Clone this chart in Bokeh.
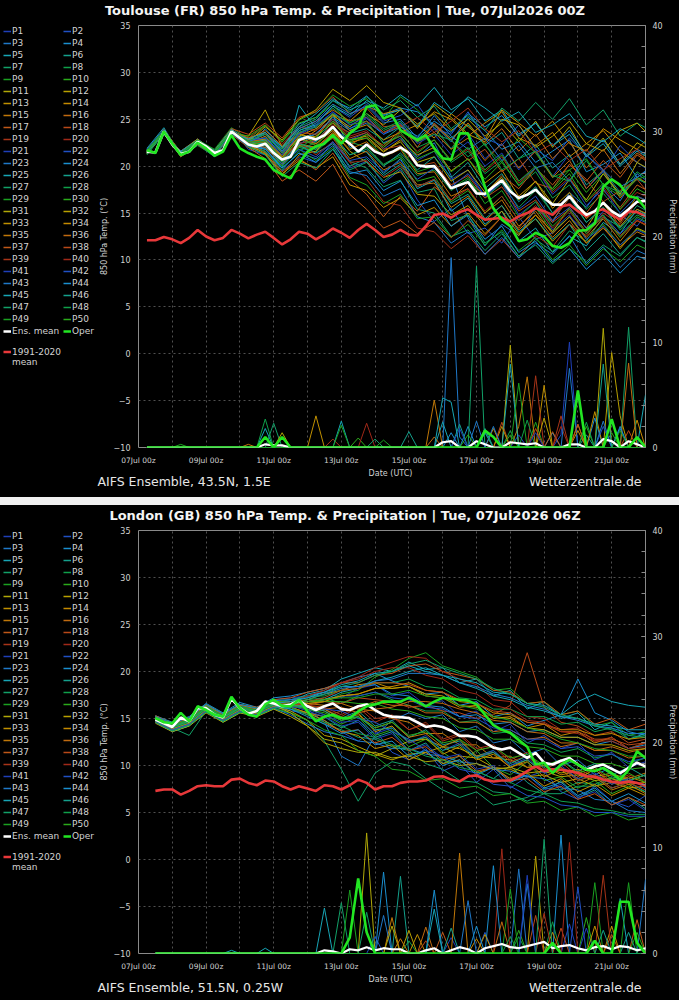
from bokeh.embed import file_html
from bokeh.layouts import column, row
from bokeh.models import Div, FixedTicker, Label, Legend, LegendItem, LinearAxis, Range1d
from bokeh.plotting import figure
from bokeh.resources import INLINE

FONT = "DejaVu Sans"
TEXT = "#d2d2d2"

MEMBER_COLORS = [
    "#1f3fb8", "#2050c4", "#1f78c8", "#1a8fcf", "#17a5b5",
    "#14a08c", "#12a068", "#0f9f4a", "#1aa020", "#2aaa1a",
    "#b0a808", "#b8a000", "#c09000", "#c48a00", "#c07808",
    "#c06a10", "#c05818", "#b84818", "#a83418", "#a02818",
]
MEAN_COLOR = "#ffffff"
OPER_COLOR = "#22e622"
CLIM_COLOR = "#e8383a"

DATE_TICKS = [0, 2, 4, 6, 8, 10, 12, 14]
DATE_LABELS = ["07Jul 00z", "09Jul 00z", "11Jul 00z", "13Jul 00z",
               "15Jul 00z", "17Jul 00z", "19Jul 00z", "21Jul 00z"]

# ---------------- Toulouse (run 00Z), 6-hourly from 07Jul 06z ----------------
TLS_MEAN = [21.55, 21.45, 23.7, 22.3, 21.3, 21.55, 22.6, 22.1, 21.4, 21.7,
            23.7, 23.0, 22.3, 22.1, 22.4, 21.4, 20.7, 21.0, 22.8, 23.1,
            22.85, 23.3, 24.2, 23.1, 22.4, 21.55, 22.3, 21.55, 21.2, 21.5,
            22.0, 21.4, 20.1, 19.95, 20.0, 18.9, 17.65, 18.0, 18.3, 17.1,
            17.05, 17.8, 18.5, 17.3, 16.6, 16.95, 17.5, 16.6, 15.9, 15.9,
            16.8, 15.7, 14.8, 15.2, 16.1, 15.2, 14.65, 15.4, 16.2, 16.3]
TLS_OPER = [21.7, 21.4, 23.7, 22.4, 21.2, 21.55, 22.5, 21.9, 21.1, 21.55,
            23.3, 21.9, 21.4, 21.0, 20.7, 19.6, 19.1, 18.7, 20.3, 21.55,
            22.1, 22.4, 23.3, 22.4, 23.5, 24.2, 26.3, 26.5, 25.1, 25.45,
            23.85, 23.3, 22.8, 23.3, 21.9, 20.85, 20.7, 23.5, 23.5, 20.7,
            17.8, 15.5, 14.3, 13.6, 12.0, 12.2, 12.9, 12.5, 11.5, 11.3,
            11.8, 13.1, 13.2, 13.9, 17.8, 18.6, 18.0, 16.8, 16.6, 15.5]
TLS_CLIM = [12.1, 12.1, 12.45, 12.2, 11.8, 12.35, 13.2, 12.5, 12.1, 12.35,
            13.2, 12.8, 12.3, 12.7, 13.0, 12.35, 11.65, 12.2, 13.0, 12.8,
            12.2, 12.7, 13.35, 12.9, 12.35, 13.2, 13.85, 13.2, 12.45, 12.7,
            13.2, 12.7, 12.6, 13.6, 14.8, 14.95, 14.5, 15.1, 15.4, 14.8,
            14.3, 14.4, 14.5, 14.1, 14.65, 15.0, 15.5, 15.2, 14.8, 15.7,
            15.9, 15.2, 14.65, 15.2, 15.4, 14.8, 14.3, 15.2, 15.1, 14.65]

# members, 12-hourly (06z / 18z) from 07Jul 06z
TLS_MEMBERS = [
    [21.8, 23.9, 21.0, 22.4, 21.2, 23.5, 22.8, 23.4, 21.5, 23.6, 24.3, 25.8, 24.0, 25.1, 23.4, 24.8, 22.6, 24.0, 21.9, 23.5, 20.8, 22.4, 19.6, 21.8, 18.9, 21.3, 17.6, 19.4, 16.9, 18.8, 17.5],
    [21.4, 23.5, 21.5, 22.9, 21.6, 24.0, 21.8, 21.2, 19.5, 21.0, 20.4, 22.6, 19.8, 20.5, 18.2, 19.6, 16.4, 14.1, 15.5, 12.8, 13.4, 11.8, 14.6, 12.2, 12.9, 14.6, 13.0, 15.2, 14.8, 13.6, 16.0],
    [21.7, 23.6, 21.2, 22.7, 21.5, 23.8, 22.5, 22.0, 20.2, 22.3, 23.5, 25.0, 23.8, 24.6, 22.5, 23.2, 21.0, 22.5, 19.0, 14.5, 11.5, 13.8, 12.6, 15.5, 14.0, 17.2, 15.6, 18.0, 16.3, 19.2, 17.9],
    [21.5, 23.8, 21.4, 22.5, 21.3, 23.6, 22.0, 24.0, 22.0, 24.5, 25.2, 27.0, 26.2, 27.5, 25.5, 26.2, 25.8, 24.4, 22.6, 25.2, 23.8, 21.8, 22.6, 20.4, 21.6, 22.8, 19.4, 20.2, 21.4, 18.8, 20.0],
    [21.9, 24.1, 21.1, 22.8, 21.7, 23.9, 22.6, 21.5, 19.8, 26.5, 24.0, 25.5, 22.0, 21.5, 19.2, 20.8, 17.6, 18.5, 15.2, 16.6, 13.8, 15.2, 12.0, 13.4, 10.8, 12.5, 11.5, 14.0, 12.8, 15.4, 14.4],
    [21.3, 23.4, 21.6, 22.3, 21.0, 23.4, 23.0, 22.8, 21.0, 23.2, 22.6, 24.8, 23.5, 24.0, 22.8, 24.2, 22.9, 24.5, 23.0, 24.4, 22.2, 23.6, 20.8, 22.3, 19.8, 21.2, 18.0, 19.5, 17.2, 18.6, 17.9],
    [21.6, 23.8, 21.3, 22.6, 21.4, 23.7, 22.2, 21.8, 20.0, 22.0, 21.5, 23.2, 20.5, 19.8, 17.8, 18.5, 15.4, 15.0, 12.5, 13.2, 11.0, 12.8, 10.4, 12.2, 10.9, 13.1, 12.0, 14.6, 13.5, 15.8, 14.8],
    [21.2, 23.5, 21.0, 22.2, 21.1, 23.3, 22.4, 23.0, 21.8, 23.8, 24.6, 26.2, 24.6, 25.4, 23.8, 24.6, 22.0, 22.8, 20.4, 21.6, 19.2, 20.6, 17.9, 19.4, 16.6, 18.0, 15.4, 17.1, 15.0, 16.8, 16.0],
    [21.7, 23.6, 21.4, 22.8, 21.8, 24.1, 22.9, 24.3, 22.6, 24.9, 25.8, 27.6, 26.4, 27.2, 25.0, 27.4, 26.0, 24.2, 21.8, 24.6, 22.2, 20.4, 23.0, 21.4, 18.8, 19.6, 20.8, 18.0, 16.8, 18.6, 19.2],
    [21.5, 23.9, 21.2, 22.5, 21.3, 23.6, 22.1, 22.5, 20.2, 22.1, 21.8, 23.0, 21.2, 22.0, 20.1, 21.0, 18.4, 18.9, 16.2, 17.4, 15.0, 16.8, 14.2, 15.6, 13.0, 14.6, 12.2, 13.8, 11.6, 13.3, 12.5],
    [21.6, 23.6, 21.5, 22.7, 21.5, 23.8, 22.6, 22.9, 21.2, 23.4, 23.0, 25.4, 24.2, 25.6, 24.4, 26.0, 24.5, 25.6, 23.8, 25.0, 23.2, 24.6, 22.6, 24.8, 22.0, 24.2, 21.0, 23.0, 20.2, 22.5, 21.5],
    [21.4, 23.7, 21.1, 22.4, 21.2, 23.5, 23.2, 26.0, 22.0, 23.5, 22.4, 23.8, 21.6, 20.4, 18.8, 19.4, 17.0, 16.8, 14.8, 15.8, 13.6, 15.2, 12.8, 14.4, 12.0, 13.8, 11.8, 13.6, 11.2, 13.4, 12.6],
    [21.8, 23.8, 21.3, 22.6, 21.6, 23.7, 22.0, 21.3, 19.0, 21.2, 21.6, 23.5, 22.5, 23.0, 21.5, 22.8, 21.2, 22.0, 19.5, 20.8, 18.2, 19.6, 16.8, 18.4, 15.5, 17.2, 14.4, 16.0, 13.6, 15.4, 14.6],
    [21.5, 23.5, 21.6, 22.9, 21.4, 23.9, 22.7, 22.2, 20.5, 22.6, 23.8, 25.5, 24.8, 26.4, 25.6, 26.0, 24.2, 25.8, 25.0, 23.2, 24.6, 25.8, 23.0, 22.2, 23.6, 21.0, 22.4, 23.8, 21.6, 20.4, 22.2],
    [21.6, 23.9, 21.2, 22.5, 21.3, 23.6, 22.4, 23.2, 21.0, 22.4, 22.0, 23.4, 20.8, 21.6, 19.6, 20.4, 18.0, 18.2, 15.6, 16.8, 14.2, 15.8, 13.2, 14.8, 12.4, 14.2, 11.8, 13.4, 11.4, 13.0, 12.2],
    [21.3, 23.6, 21.4, 22.7, 21.5, 23.7, 22.9, 23.8, 22.2, 24.0, 24.8, 26.0, 24.8, 25.2, 23.6, 24.4, 22.6, 23.6, 21.8, 23.0, 20.6, 22.4, 19.8, 21.6, 18.8, 20.6, 17.6, 19.6, 16.6, 18.8, 17.8],
    [21.7, 23.7, 21.0, 22.3, 21.2, 23.4, 22.2, 21.6, 19.4, 20.8, 19.6, 21.4, 18.6, 17.0, 14.6, 16.8, 15.2, 17.8, 16.4, 18.2, 17.0, 19.0, 17.6, 19.8, 18.0, 20.2, 18.4, 20.6, 18.8, 21.2, 20.0],
    [21.5, 23.8, 21.4, 22.8, 21.6, 24.0, 23.4, 24.6, 23.0, 25.2, 25.8, 27.4, 25.6, 26.2, 24.2, 24.4, 22.0, 24.6, 22.8, 20.6, 21.8, 19.4, 20.8, 18.2, 17.6, 20.2, 18.6, 16.2, 17.4, 18.6, 16.4],
    [21.6, 23.6, 21.2, 22.6, 21.4, 23.6, 22.6, 22.8, 20.8, 22.9, 22.2, 23.0, 20.4, 18.6, 16.2, 15.8, 13.4, 13.0, 11.2, 12.6, 10.6, 12.2, 10.2, 12.6, 11.4, 13.8, 12.6, 15.0, 13.8, 16.2, 15.2],
    [21.4, 23.7, 21.5, 22.5, 21.3, 23.8, 23.0, 24.4, 22.4, 24.2, 23.8, 25.0, 23.2, 23.8, 22.0, 23.4, 21.6, 22.8, 20.6, 21.8, 19.4, 21.0, 18.2, 19.8, 17.2, 18.8, 16.2, 17.8, 15.4, 17.2, 16.4],
    [21.8, 23.8, 21.4, 22.7, 21.5, 23.7, 22.1, 22.6, 20.4, 22.5, 22.6, 24.0, 22.8, 23.6, 21.8, 23.0, 20.6, 21.6, 18.6, 19.6, 16.8, 18.2, 14.8, 16.2, 13.2, 14.8, 12.2, 13.6, 11.6, 13.2, 12.4],
    [21.5, 23.6, 21.2, 22.4, 21.2, 23.5, 22.5, 23.6, 21.6, 23.4, 24.6, 26.4, 25.2, 26.6, 24.8, 25.4, 26.6, 24.0, 23.4, 25.8, 23.0, 22.2, 24.4, 21.8, 20.6, 23.0, 21.2, 19.4, 22.2, 20.4, 19.2],
    [21.6, 23.9, 21.3, 22.6, 21.4, 23.7, 22.3, 21.9, 19.8, 21.4, 20.8, 22.2, 19.4, 19.0, 16.8, 17.6, 14.6, 14.0, 11.8, 13.0, 10.6, 12.4, 10.2, 11.8, 10.6, 12.6, 9.6, 11.4, 9.2, 11.0, 10.2],
    [21.3, 23.5, 21.6, 22.8, 21.6, 23.9, 22.8, 23.0, 21.4, 23.0, 23.4, 25.2, 24.0, 24.8, 23.4, 24.2, 23.2, 24.8, 23.6, 25.6, 24.2, 25.4, 23.2, 24.6, 22.2, 23.8, 21.2, 22.8, 20.2, 21.8, 20.8],
    [21.7, 23.7, 21.1, 22.5, 21.3, 23.6, 22.4, 22.4, 20.6, 23.8, 24.4, 26.4, 25.4, 27.0, 26.2, 27.6, 26.4, 28.4, 26.0, 27.2, 24.8, 26.0, 23.4, 24.6, 22.2, 23.4, 21.0, 22.4, 20.0, 21.6, 20.6],
    [21.5, 23.8, 21.4, 22.7, 21.5, 23.8, 22.2, 22.6, 20.4, 22.2, 21.4, 22.4, 20.0, 20.8, 19.0, 20.2, 17.8, 18.6, 16.0, 17.0, 14.4, 15.8, 13.0, 14.4, 12.2, 13.8, 11.0, 12.8, 10.6, 12.4, 11.6],
    [21.6, 23.6, 21.3, 22.6, 21.4, 23.7, 22.5, 23.6, 21.8, 24.2, 25.0, 27.0, 25.8, 27.4, 26.0, 27.0, 25.2, 26.4, 24.0, 25.4, 23.8, 26.2, 24.8, 26.8, 25.0, 27.2, 24.4, 26.0, 23.2, 24.6, 23.6],
    [21.4, 23.7, 21.2, 22.5, 21.2, 23.5, 22.0, 21.6, 19.6, 21.6, 22.6, 24.0, 22.6, 22.0, 20.2, 21.2, 19.0, 19.6, 17.4, 18.6, 16.6, 18.2, 15.6, 17.4, 15.0, 16.8, 14.0, 15.6, 13.2, 14.8, 14.0],
    [21.8, 23.9, 21.5, 22.8, 21.6, 23.8, 22.6, 22.2, 20.0, 21.8, 20.6, 22.0, 18.8, 18.0, 16.0, 17.0, 14.4, 14.6, 12.4, 13.8, 11.6, 13.2, 11.0, 12.4, 10.0, 11.6, 9.4, 11.2, 9.8, 11.6, 10.8],
    [21.5, 23.6, 21.3, 22.6, 21.5, 23.6, 23.2, 24.4, 22.6, 24.6, 25.2, 26.6, 24.4, 24.8, 22.4, 23.2, 20.8, 21.6, 19.4, 20.8, 18.6, 20.4, 18.0, 19.8, 17.6, 19.6, 17.2, 19.2, 16.8, 18.8, 17.6],
    [21.6, 23.8, 21.4, 22.7, 21.4, 23.7, 22.4, 22.6, 20.8, 22.9, 23.2, 24.6, 22.8, 23.2, 21.6, 22.6, 20.4, 21.0, 18.4, 19.6, 17.2, 18.8, 16.4, 18.4, 16.0, 18.6, 16.4, 19.2, 17.0, 20.4, 19.4],
    [21.3, 23.5, 21.1, 22.4, 21.3, 23.6, 22.6, 24.2, 22.8, 25.0, 26.0, 28.2, 27.0, 28.6, 26.8, 26.2, 24.0, 26.6, 25.2, 23.4, 22.6, 25.0, 24.4, 22.0, 23.2, 24.8, 22.4, 21.6, 23.8, 24.6, 22.8],
    [21.7, 23.6, 21.5, 22.6, 21.5, 23.8, 22.2, 21.4, 19.2, 20.6, 19.8, 21.0, 18.0, 17.4, 15.6, 16.6, 14.8, 15.6, 13.6, 15.0, 12.8, 14.6, 12.6, 14.8, 13.0, 15.6, 13.4, 16.2, 14.0, 16.8, 15.8],
    [21.5, 23.7, 21.2, 22.5, 21.3, 23.6, 22.8, 22.8, 21.0, 23.2, 24.0, 25.6, 23.8, 24.4, 22.8, 23.6, 24.4, 23.0, 25.6, 24.2, 22.8, 26.0, 24.6, 23.2, 24.8, 22.4, 21.6, 24.0, 22.8, 21.8, 23.6],
    [21.6, 23.9, 21.4, 22.8, 21.6, 23.9, 22.4, 22.0, 20.2, 22.2, 22.0, 23.6, 21.8, 22.6, 21.0, 21.8, 19.2, 19.4, 16.8, 17.6, 15.0, 16.4, 13.6, 15.2, 12.8, 14.6, 12.4, 14.4, 12.0, 14.2, 13.2],
    [21.4, 23.6, 21.3, 22.6, 21.4, 23.7, 23.0, 23.6, 21.4, 23.0, 22.4, 23.8, 22.2, 23.4, 22.2, 23.8, 22.6, 24.4, 22.8, 24.6, 22.4, 24.0, 21.6, 23.4, 20.8, 22.6, 19.8, 21.8, 19.2, 21.4, 20.2],
    [21.7, 23.7, 21.1, 22.4, 21.2, 23.4, 22.0, 20.8, 18.4, 19.6, 18.4, 20.2, 17.0, 15.4, 13.4, 14.2, 12.8, 14.0, 12.4, 14.2, 12.6, 14.6, 13.4, 15.6, 14.2, 16.6, 15.0, 17.4, 15.6, 18.0, 17.0],
    [21.5, 23.8, 21.5, 22.7, 21.5, 23.8, 22.6, 23.4, 21.6, 23.6, 23.4, 24.8, 23.0, 23.6, 21.8, 22.2, 20.0, 20.4, 18.0, 19.0, 16.6, 17.8, 15.2, 16.4, 14.0, 15.4, 13.0, 14.6, 12.6, 14.2, 13.4],
    [21.6, 23.6, 21.2, 22.6, 21.4, 23.6, 22.3, 22.2, 20.6, 22.4, 22.8, 24.4, 23.6, 24.8, 23.6, 24.2, 25.2, 23.6, 24.8, 26.2, 24.0, 22.6, 23.8, 21.4, 22.4, 20.6, 21.8, 19.6, 20.8, 21.8, 19.4],
    [21.4, 23.7, 21.4, 22.5, 21.3, 23.7, 22.5, 22.6, 20.8, 22.6, 21.2, 22.6, 20.4, 20.6, 18.8, 20.0, 17.8, 18.6, 16.4, 17.6, 15.2, 16.8, 14.2, 15.8, 13.4, 15.2, 12.8, 14.6, 12.4, 14.2, 13.4],
    [21.8, 23.9, 21.3, 22.7, 21.6, 23.8, 22.7, 23.0, 21.2, 23.4, 24.2, 25.8, 24.4, 25.2, 23.4, 24.6, 22.4, 23.4, 21.2, 22.6, 20.0, 21.4, 18.4, 19.8, 17.0, 18.6, 15.8, 17.6, 15.0, 16.8, 16.0],
    [21.5, 23.6, 21.2, 22.4, 21.2, 23.5, 22.1, 22.2, 20.2, 21.8, 21.0, 22.6, 20.6, 21.0, 19.4, 20.6, 18.6, 19.8, 17.8, 19.2, 16.8, 18.4, 15.4, 16.8, 14.2, 15.6, 13.4, 14.8, 12.8, 14.4, 13.6],
    [21.6, 23.7, 21.4, 22.6, 21.4, 23.7, 22.6, 23.4, 21.6, 24.0, 24.8, 26.6, 25.6, 26.4, 24.6, 25.0, 23.0, 25.4, 23.2, 21.8, 23.0, 20.6, 22.2, 19.8, 20.4, 18.4, 21.2, 19.6, 17.8, 18.8, 20.2],
    [21.4, 23.6, 21.5, 22.8, 21.6, 23.9, 22.2, 21.8, 19.8, 21.4, 20.4, 21.8, 19.2, 19.6, 17.4, 18.4, 15.8, 16.4, 13.6, 14.8, 12.2, 13.6, 10.8, 12.0, 9.8, 11.2, 9.0, 10.6, 8.6, 10.4, 9.8],
    [21.7, 23.8, 21.3, 22.5, 21.3, 23.6, 22.9, 23.6, 22.0, 24.2, 25.6, 27.2, 26.0, 26.8, 25.4, 26.0, 24.2, 26.8, 25.6, 27.4, 26.2, 24.8, 25.8, 23.6, 24.4, 25.6, 23.2, 22.6, 24.0, 23.0, 21.8],
    [21.5, 23.7, 21.2, 22.6, 21.4, 23.7, 22.4, 22.8, 20.6, 22.4, 21.8, 23.4, 21.2, 21.8, 20.0, 21.4, 19.6, 21.0, 18.8, 20.4, 17.6, 19.2, 16.2, 17.8, 15.0, 16.6, 14.0, 15.6, 13.4, 15.2, 14.4],
    [21.6, 23.6, 21.4, 22.7, 21.5, 23.8, 22.1, 21.2, 18.9, 20.4, 19.8, 21.8, 19.6, 20.4, 18.4, 19.8, 17.2, 17.6, 14.2, 14.8, 11.8, 13.0, 10.4, 11.6, 9.6, 11.2, 9.8, 11.6, 10.4, 12.4, 11.4],
    [21.3, 23.5, 21.3, 22.5, 21.3, 23.6, 22.7, 23.4, 21.4, 23.6, 24.2, 25.6, 24.6, 25.6, 24.0, 24.8, 22.6, 23.4, 22.8, 21.0, 22.4, 19.6, 20.8, 21.6, 19.0, 18.4, 20.6, 18.0, 17.2, 19.4, 18.2],
    [21.7, 23.8, 21.2, 22.6, 21.4, 23.6, 22.4, 22.2, 20.4, 22.0, 23.0, 24.8, 22.8, 23.0, 21.0, 22.0, 19.4, 20.0, 17.6, 18.8, 16.0, 17.4, 14.6, 16.2, 13.6, 15.4, 12.8, 14.8, 12.4, 14.6, 13.6],
    [21.5, 23.7, 21.4, 22.8, 21.6, 23.8, 22.6, 22.6, 20.8, 23.0, 22.2, 24.0, 22.6, 23.4, 22.0, 23.6, 21.4, 22.8, 20.6, 22.0, 19.6, 21.2, 18.4, 20.0, 17.4, 19.2, 16.2, 18.2, 15.4, 17.6, 16.6],
]

# precipitation (mm per 6 h): member -> [(step, mm)], step 1 = first 6-hourly value
TLS_PRECIP = {
    1: [(50, 1.2), (51, 10.0)],
    3: [(37, 18.0), (38, 1.0), (57, 1.8)],
    4: [(39, 2.0), (49, 1.4)],
    5: [(15, 1.8), (36, 2.4), (60, 5.0)],
    6: [(38, 2.2), (53, 1.2)],
    7: [(16, 2.3), (40, 17.2)],
    8: [(15, 2.7), (44, 1.6)],
    9: [(5, 0.3), (47, 2.4)],
    10: [(26, 0.9), (53, 2.0)],
    11: [(17, 1.4), (44, 9.7)],
    12: [(56, 9.0), (57, 3.0)],
    13: [(21, 3.0), (48, 5.9)],
    14: [(42, 1.8), (59, 2.6)],
    15: [(13, 0.3), (45, 2.0), (46, 6.7)],
    16: [(35, 1.0), (52, 2.2)],
    17: [(49, 1.5)],
    18: [(43, 2.4), (58, 1.6)],
    19: [(23, 0.8), (47, 6.8)],
    20: [(27, 2.3), (50, 2.0)],
    21: [(45, 1.2)],
    23: [(40, 2.5), (51, 7.5)],
    24: [(37, 1.4), (54, 2.8)],
    25: [(24, 2.5), (44, 7.9)],
    26: [(32, 1.5), (41, 1.8)],
    27: [(58, 11.4)],
    28: [(46, 2.6)],
    29: [(24, 2.1), (45, 6.1)],
    30: [(39, 1.2), (56, 1.4)],
    31: [(55, 11.3)],
    32: [(48, 2.8)],
    33: [(43, 2.0), (54, 3.4)],
    34: [(52, 1.6)],
    35: [(35, 4.5)],
    36: [(58, 8.0)],
    37: [(52, 2.2)],
    38: [(47, 1.8)],
    39: [(50, 3.0)],
    41: [(38, 1.8), (47, 1.4)],
    42: [(55, 2.0)],
    43: [(42, 2.0), (55, 2.5)],
    44: [(41, 1.4), (57, 2.0)],
    45: [(36, 4.7), (37, 4.3)],
    46: [(55, 7.9)],
    47: [(28, 0.8), (41, 1.5)],
    48: [(53, 2.4)],
    49: [(29, 0.7), (57, 1.6)],
    50: [(44, 1.2)],
}
TLS_MEAN_PRECIP = [(15, 0.3), (16, 0.2), (17, 0.2), (36, 0.5), (37, 0.6), (40, 0.6),
                   (41, 0.3), (44, 0.5), (45, 0.4), (46, 0.3), (47, 0.4), (51, 0.3),
                   (52, 0.3), (55, 0.8), (56, 0.6), (58, 0.6), (59, 0.3)]
TLS_OPER_PRECIP = [(15, 1.0), (17, 1.0), (41, 1.6), (42, 1.0), (52, 5.4), (56, 2.7), (59, 1.0)]

# ---------------- London (run 06Z), 6-hourly from 07Jul 12z ----------------
LON_MEAN = [14.9, 14.5, 14.1, 15.1, 14.7, 16.1, 16.1, 15.4, 15.1, 17.1,
            16.1, 15.5, 15.8, 16.8, 16.6, 16.3, 16.5, 16.9, 16.3, 15.9,
            16.3, 16.6, 16.0, 15.9, 16.3, 16.5, 15.9, 15.4, 15.2, 15.15,
            15.05, 14.6, 14.1, 14.25, 14.1, 13.7, 13.15, 13.15, 13.0, 12.45,
            11.9, 11.7, 11.9, 11.35, 10.8, 11.35, 10.3, 10.1, 10.5, 10.8,
            10.1, 9.55, 9.9, 10.1, 9.65, 9.2, 9.75, 10.3, 9.9, 9.7]
LON_OPER = [15.05, 14.6, 14.5, 15.6, 14.7, 16.3, 15.9, 15.4, 15.2, 17.3,
            16.1, 15.4, 15.2, 16.5, 17.0, 16.3, 16.3, 17.0, 15.75, 14.7,
            15.2, 15.4, 15.05, 15.05, 15.75, 16.3, 16.5, 16.8, 16.8, 16.8,
            17.2, 16.8, 16.3, 16.8, 17.2, 17.1, 17.0, 16.9, 16.5, 15.4,
            14.3, 13.8, 13.45, 12.7, 12.0, 10.1, 10.3, 9.2, 10.1, 10.6,
            10.1, 9.55, 9.4, 9.75, 9.2, 8.5, 9.55, 11.5, 10.8, 10.5]
LON_CLIM = [7.3, 7.45, 7.45, 6.9, 7.3, 7.8, 7.9, 7.8, 7.8, 8.5,
            8.6, 8.15, 7.9, 8.4, 8.3, 7.8, 7.45, 7.8, 7.55, 7.3,
            7.9, 7.8, 7.45, 7.9, 8.5, 8.15, 7.45, 7.8, 7.8, 8.15,
            8.3, 8.3, 8.4, 8.8, 8.85, 8.5, 8.3, 8.85, 8.95, 8.5,
            8.3, 8.4, 8.4, 8.85, 9.4, 9.9, 9.4, 9.6, 9.55, 9.4,
            9.2, 8.85, 8.8, 8.5, 8.3, 8.15, 8.3, 8.15, 7.9, 7.9]

# members, 12-hourly (12z / 00z) from 07Jul 12z
LON_MEMBERS = [
    [15.2, 14.4, 15.0, 16.4, 15.4, 16.4, 16.0, 17.0, 17.2, 17.4, 17.8, 17.2, 18.2, 18.6, 17.4, 17.8, 16.4, 16.9, 15.2, 15.8, 13.6, 14.4, 12.4, 13.2, 11.8, 12.4, 10.6, 11.4, 9.8, 10.4],
    [14.8, 13.9, 14.5, 15.9, 14.8, 15.8, 15.4, 16.2, 15.8, 15.6, 14.8, 13.6, 12.6, 13.8, 11.4, 10.6, 11.8, 9.4, 10.2, 8.2, 9.6, 7.6, 8.8, 9.4, 7.2, 6.4, 7.8, 6.2, 5.6, 6.8],
    [15.0, 14.2, 14.8, 16.2, 15.2, 16.3, 15.9, 16.8, 16.6, 16.0, 14.6, 11.0, 10.0, 13.2, 14.8, 15.6, 15.0, 15.4, 13.6, 14.2, 12.4, 12.8, 11.2, 11.8, 10.0, 10.6, 9.0, 9.8, 8.4, 9.0],
    [15.3, 14.6, 15.2, 16.6, 15.6, 16.7, 16.2, 17.2, 17.4, 17.8, 18.2, 18.8, 19.4, 19.8, 19.0, 18.4, 17.6, 17.8, 16.4, 16.8, 15.2, 15.6, 14.2, 14.8, 15.4, 19.2, 15.6, 14.8, 13.6, 13.2],
    [14.6, 13.6, 14.2, 15.8, 14.8, 15.9, 15.6, 16.4, 16.8, 17.6, 18.0, 19.2, 19.8, 20.4, 20.0, 21.0, 20.2, 20.4, 18.8, 19.2, 17.4, 18.0, 16.0, 16.8, 15.0, 15.6, 13.8, 14.6, 12.8, 13.4],
    [15.1, 14.3, 14.9, 16.3, 15.3, 16.2, 15.8, 16.4, 16.0, 15.6, 15.2, 14.0, 14.8, 13.0, 13.6, 11.6, 12.4, 10.2, 11.0, 9.4, 8.6, 10.0, 8.2, 7.0, 8.4, 6.6, 7.4, 5.8, 6.6, 5.4],
    [14.9, 14.0, 13.2, 15.8, 14.6, 15.6, 15.4, 16.0, 15.6, 14.8, 12.6, 9.6, 6.2, 9.2, 10.4, 10.0, 8.6, 7.4, 6.6, 7.2, 5.8, 6.2, 6.6, 7.6, 7.4, 8.2, 8.0, 8.8, 8.4, 9.0],
    [15.0, 14.2, 14.8, 16.2, 15.2, 16.2, 15.9, 16.7, 16.8, 17.0, 17.2, 16.6, 17.4, 17.8, 17.0, 16.4, 15.8, 15.8, 14.6, 14.8, 13.4, 13.6, 12.4, 12.2, 11.4, 11.8, 10.8, 11.2, 10.2, 10.8],
    [14.7, 13.8, 14.4, 15.8, 14.8, 15.8, 15.4, 16.2, 16.2, 16.6, 16.8, 17.6, 18.0, 19.4, 20.2, 21.4, 22.0, 20.6, 20.0, 19.4, 18.0, 18.2, 16.6, 16.8, 15.4, 15.8, 14.2, 14.6, 13.2, 13.6],
    [15.2, 14.5, 15.1, 16.5, 15.5, 16.5, 16.1, 16.9, 16.6, 16.0, 15.4, 14.4, 15.2, 13.2, 13.8, 12.0, 12.8, 11.4, 10.2, 11.6, 9.8, 9.0, 10.4, 8.4, 8.8, 7.6, 8.4, 7.0, 7.8, 7.2],
    [14.5, 13.6, 14.2, 15.6, 14.6, 15.6, 15.2, 16.0, 15.2, 14.2, 12.8, 12.4, 11.6, 11.0, 11.8, 12.6, 12.8, 12.0, 11.8, 11.0, 10.8, 10.6, 9.8, 10.0, 9.2, 9.6, 8.8, 9.2, 8.4, 9.0],
    [14.8, 14.0, 14.6, 16.0, 15.0, 16.0, 15.6, 16.4, 15.8, 14.8, 13.2, 12.8, 12.0, 11.2, 10.6, 11.2, 11.4, 12.0, 11.0, 10.8, 9.8, 9.6, 8.8, 9.0, 8.2, 8.6, 7.8, 8.2, 7.6, 7.8],
    [15.0, 14.2, 14.9, 16.3, 15.2, 16.2, 15.9, 16.6, 16.4, 16.2, 15.8, 14.8, 15.6, 13.6, 14.2, 12.4, 13.0, 11.2, 12.0, 10.6, 11.2, 9.8, 10.6, 9.2, 9.8, 8.6, 9.6, 8.0, 8.8, 8.2],
    [14.6, 13.8, 14.4, 15.8, 14.8, 15.8, 15.4, 16.2, 16.6, 17.0, 17.6, 18.0, 18.6, 18.8, 18.2, 18.4, 17.4, 17.2, 16.2, 16.4, 15.0, 15.2, 14.0, 14.4, 13.2, 13.6, 12.4, 13.0, 11.8, 12.4],
    [15.1, 14.3, 15.0, 16.4, 15.3, 16.4, 16.0, 16.8, 16.8, 16.6, 16.4, 16.6, 16.0, 15.8, 15.0, 14.6, 13.4, 13.4, 12.2, 12.2, 10.8, 11.0, 9.8, 10.0, 9.0, 9.4, 8.6, 9.0, 8.6, 9.2],
    [14.9, 14.1, 14.7, 16.1, 15.1, 16.0, 15.7, 16.5, 16.2, 15.6, 15.2, 15.8, 16.2, 16.8, 16.4, 16.4, 15.6, 15.6, 14.6, 14.6, 13.6, 13.8, 12.8, 13.0, 12.0, 12.4, 11.6, 12.0, 11.4, 11.8],
    [15.3, 14.5, 15.1, 16.5, 15.5, 16.5, 16.2, 17.0, 17.2, 17.8, 18.2, 18.8, 18.8, 19.6, 19.8, 20.6, 20.8, 20.0, 19.6, 19.2, 18.0, 17.8, 16.6, 16.8, 15.4, 15.8, 14.4, 15.0, 13.8, 14.4],
    [14.7, 13.9, 14.5, 15.9, 14.9, 15.9, 15.5, 16.3, 16.2, 16.4, 16.8, 16.6, 17.2, 17.0, 16.8, 16.2, 16.4, 15.8, 15.6, 15.0, 15.4, 16.4, 22.0, 16.2, 14.6, 14.2, 13.2, 13.6, 12.4, 12.8],
    [15.0, 14.2, 14.8, 16.2, 15.2, 16.2, 15.8, 16.6, 16.4, 16.2, 16.0, 15.2, 16.2, 14.6, 15.4, 13.8, 14.6, 12.8, 13.4, 11.8, 12.2, 10.6, 11.4, 9.6, 10.4, 8.8, 9.8, 8.2, 9.0, 8.4],
    [14.8, 14.0, 14.6, 16.0, 15.0, 16.0, 15.6, 16.4, 16.6, 17.4, 17.8, 18.8, 19.4, 20.4, 21.0, 21.6, 21.4, 20.0, 19.2, 18.6, 17.0, 16.8, 15.2, 15.0, 13.8, 14.0, 12.6, 13.0, 11.8, 12.4],
    [15.2, 14.4, 15.0, 16.4, 15.4, 16.4, 16.0, 16.8, 16.4, 15.8, 15.2, 14.2, 14.6, 12.8, 13.4, 11.6, 12.2, 10.8, 11.2, 9.6, 10.0, 8.4, 9.0, 7.4, 8.0, 6.6, 7.2, 5.8, 6.4, 5.2],
    [14.9, 14.1, 14.7, 16.1, 15.1, 16.1, 15.8, 16.6, 16.6, 16.8, 17.0, 17.4, 17.4, 17.8, 17.2, 17.0, 16.2, 16.0, 15.2, 15.0, 14.0, 13.8, 12.8, 12.8, 11.8, 12.0, 11.0, 11.2, 10.4, 10.8],
    [14.6, 13.7, 14.3, 15.7, 14.7, 15.7, 15.3, 16.1, 15.4, 14.4, 13.6, 13.2, 12.6, 12.4, 11.8, 11.8, 11.2, 11.0, 10.4, 10.2, 9.6, 9.4, 8.8, 8.6, 7.6, 7.4, 6.4, 6.2, 5.2, 5.0],
    [15.1, 14.3, 14.9, 16.3, 15.3, 16.3, 15.9, 16.7, 17.0, 17.4, 17.8, 18.4, 18.4, 18.6, 17.6, 17.4, 16.4, 16.2, 15.2, 15.4, 14.4, 14.6, 13.6, 13.8, 13.0, 13.0, 12.2, 12.6, 11.8, 12.2],
    [14.8, 13.9, 14.5, 15.9, 14.9, 15.9, 15.5, 16.3, 16.4, 16.8, 17.0, 17.8, 18.2, 19.0, 19.4, 20.0, 20.4, 19.6, 19.2, 18.8, 17.8, 17.6, 16.6, 16.4, 15.4, 16.8, 17.6, 16.8, 16.4, 16.2],
    [15.0, 14.2, 14.8, 16.2, 15.2, 16.2, 15.9, 16.7, 16.5, 16.3, 16.0, 15.0, 15.8, 14.2, 14.8, 13.0, 13.8, 12.2, 12.6, 11.0, 11.6, 10.0, 10.6, 9.2, 9.8, 8.4, 9.0, 7.6, 8.2, 7.2],
    [14.7, 13.8, 14.4, 15.8, 14.8, 15.8, 15.4, 16.2, 16.0, 15.4, 14.4, 13.8, 13.0, 12.8, 12.0, 11.6, 10.2, 9.6, 8.4, 8.2, 7.2, 7.0, 6.2, 7.0, 7.0, 7.8, 7.8, 8.6, 8.4, 9.0],
    [15.2, 14.5, 15.1, 16.5, 15.5, 16.5, 16.1, 16.9, 17.0, 17.4, 17.4, 18.0, 18.2, 18.8, 18.8, 19.2, 18.4, 18.2, 17.2, 17.0, 16.0, 16.0, 15.2, 15.2, 14.4, 14.6, 13.6, 14.0, 12.8, 13.2],
    [14.6, 13.7, 14.3, 15.7, 14.7, 15.7, 15.3, 16.1, 15.6, 14.8, 13.8, 13.2, 11.6, 11.0, 9.6, 9.4, 8.4, 8.6, 7.6, 7.8, 6.8, 7.0, 6.0, 6.2, 5.2, 5.6, 4.6, 5.0, 4.2, 4.6],
    [15.1, 14.3, 15.0, 16.4, 15.4, 16.4, 16.0, 16.8, 16.8, 16.8, 16.8, 16.8, 16.6, 16.6, 16.0, 15.8, 15.2, 15.0, 14.0, 13.8, 12.8, 12.8, 12.0, 11.8, 11.0, 11.0, 10.2, 10.2, 9.6, 9.8],
    [14.8, 14.0, 14.6, 16.0, 15.0, 16.0, 15.6, 16.4, 15.6, 14.2, 12.4, 11.8, 11.4, 11.4, 10.8, 11.0, 10.4, 10.6, 10.0, 10.2, 9.6, 9.8, 9.2, 9.4, 8.8, 9.0, 8.4, 8.6, 8.0, 8.2],
    [15.0, 14.2, 14.8, 16.2, 15.2, 16.2, 15.8, 16.6, 16.6, 16.8, 17.0, 17.4, 17.6, 18.2, 18.2, 18.4, 17.6, 17.4, 16.4, 16.2, 15.2, 15.0, 14.0, 13.8, 13.0, 13.0, 12.2, 12.2, 11.6, 11.8],
    [14.9, 14.1, 14.7, 16.1, 15.1, 16.1, 15.7, 16.5, 16.2, 15.6, 14.8, 13.6, 13.2, 11.8, 12.2, 10.6, 11.4, 10.2, 10.6, 9.2, 9.8, 8.6, 9.2, 7.8, 8.6, 7.2, 8.0, 6.8, 7.6, 6.8],
    [14.7, 13.9, 14.5, 15.9, 14.9, 15.9, 15.5, 16.3, 16.4, 16.6, 16.8, 17.4, 17.6, 18.2, 18.4, 18.8, 18.0, 17.8, 16.8, 16.6, 15.6, 15.4, 14.6, 14.4, 13.8, 13.8, 13.2, 13.4, 12.8, 13.0],
    [15.2, 14.4, 15.0, 16.4, 15.4, 16.4, 16.0, 16.8, 16.6, 16.4, 16.0, 15.0, 15.4, 14.0, 14.6, 13.0, 13.4, 12.0, 12.8, 11.0, 11.4, 9.8, 10.4, 8.8, 9.6, 8.0, 8.8, 7.4, 8.0, 7.0],
    [14.8, 14.0, 14.6, 16.0, 15.0, 16.0, 15.6, 16.4, 16.4, 16.2, 16.0, 16.2, 15.6, 16.0, 16.2, 16.8, 16.8, 16.6, 16.0, 15.6, 14.8, 14.6, 13.6, 13.4, 12.4, 12.4, 11.6, 11.6, 10.8, 11.0],
    [15.0, 14.2, 14.8, 16.2, 15.2, 16.2, 15.8, 16.6, 16.2, 15.4, 14.6, 13.6, 13.8, 12.4, 13.0, 11.6, 12.0, 10.6, 11.0, 9.4, 9.8, 8.4, 8.6, 7.2, 7.8, 6.4, 7.0, 5.8, 6.6, 5.8],
    [14.6, 13.8, 14.4, 15.8, 14.8, 15.8, 15.4, 16.2, 16.4, 16.8, 17.2, 18.0, 18.2, 18.8, 18.8, 18.6, 18.0, 17.8, 17.0, 16.6, 15.8, 15.6, 14.6, 14.4, 13.6, 13.6, 12.8, 12.8, 12.2, 12.4],
    [15.1, 14.3, 14.9, 16.3, 15.3, 16.3, 15.9, 16.7, 16.6, 16.4, 16.2, 15.4, 16.4, 15.0, 15.2, 13.8, 14.4, 12.6, 13.2, 11.6, 12.0, 10.4, 11.0, 9.4, 9.8, 8.4, 9.0, 7.6, 8.2, 7.4],
    [14.9, 14.1, 14.7, 16.1, 15.1, 16.1, 15.7, 16.5, 16.8, 17.4, 18.0, 18.8, 19.2, 20.0, 20.4, 20.4, 19.6, 19.2, 18.0, 17.6, 16.4, 16.0, 14.8, 14.6, 13.6, 13.4, 12.6, 12.6, 11.8, 12.0],
    [15.0, 14.2, 14.8, 16.2, 15.2, 16.2, 15.8, 16.6, 16.4, 16.0, 15.4, 14.6, 14.8, 13.4, 14.0, 12.4, 13.2, 11.6, 12.4, 10.8, 11.6, 10.0, 10.8, 9.2, 10.0, 8.6, 9.2, 8.0, 8.6, 7.6],
    [14.7, 13.8, 14.4, 15.8, 14.8, 15.8, 15.4, 16.2, 16.2, 16.2, 16.0, 15.8, 15.0, 14.6, 13.6, 12.8, 11.6, 11.0, 9.6, 9.2, 8.0, 7.8, 6.8, 6.6, 5.8, 5.6, 5.0, 5.0, 4.6, 4.6],
    [15.2, 14.5, 15.1, 16.5, 15.5, 16.5, 16.1, 16.9, 17.0, 17.2, 17.6, 18.2, 18.4, 19.0, 19.2, 19.8, 19.8, 19.6, 18.8, 18.4, 17.6, 17.2, 16.4, 16.0, 15.2, 14.8, 14.2, 14.0, 13.4, 13.4],
    [14.8, 14.0, 14.6, 16.0, 15.0, 16.0, 15.6, 16.4, 16.0, 15.2, 14.4, 13.4, 13.8, 12.2, 12.6, 11.0, 11.6, 10.0, 10.6, 9.0, 9.8, 8.2, 9.0, 7.6, 8.2, 6.8, 7.6, 6.2, 7.0, 6.0],
    [15.0, 14.2, 14.8, 16.2, 15.2, 16.2, 15.8, 16.6, 16.8, 17.2, 17.8, 18.6, 19.0, 19.8, 20.0, 20.6, 20.0, 19.6, 18.8, 18.2, 17.4, 17.0, 16.2, 15.8, 15.2, 15.0, 14.4, 14.2, 13.8, 13.8],
    [14.9, 14.1, 14.7, 16.1, 15.1, 16.1, 15.7, 16.5, 16.4, 16.2, 15.8, 14.8, 15.2, 13.8, 14.0, 12.6, 13.0, 11.6, 12.2, 10.8, 11.4, 10.2, 11.0, 9.8, 10.6, 9.4, 10.2, 9.0, 9.8, 8.8],
    [14.6, 13.7, 14.3, 15.7, 14.7, 15.7, 15.3, 16.1, 16.4, 17.0, 17.6, 18.4, 18.8, 19.6, 20.0, 20.8, 21.2, 20.4, 19.8, 19.2, 18.2, 17.6, 16.6, 16.2, 15.4, 15.0, 14.2, 13.8, 13.2, 13.0],
    [15.1, 14.3, 14.9, 16.3, 15.3, 16.3, 15.9, 16.7, 16.2, 15.4, 14.6, 14.2, 13.4, 13.0, 12.2, 11.8, 11.0, 10.6, 9.8, 9.4, 8.6, 8.2, 7.4, 7.0, 6.2, 6.0, 5.4, 5.2, 4.8, 4.8],
    [14.8, 14.0, 14.6, 16.0, 15.0, 16.0, 15.6, 16.4, 16.6, 16.8, 17.0, 17.2, 17.2, 17.6, 17.6, 18.0, 17.4, 17.2, 16.4, 16.0, 15.2, 14.8, 14.0, 13.6, 12.8, 12.4, 11.8, 11.6, 11.0, 11.0],
    [15.0, 14.2, 14.8, 16.2, 15.2, 16.2, 15.8, 16.6, 16.4, 16.0, 15.6, 14.8, 15.2, 14.0, 14.6, 13.2, 13.6, 12.4, 12.8, 11.6, 12.0, 10.8, 11.2, 10.0, 10.6, 9.2, 9.8, 8.6, 9.2, 8.2],
]

LON_PRECIP = {
    1: [(36, 1.5), (52, 2.4)],
    2: [(40, 2.0)],
    3: [(44, 8.0)],
    4: [(28, 7.7), (49, 11.2)],
    5: [(10, 0.3), (21, 4.3)],
    6: [(30, 7.3)],
    7: [(23, 4.8)],
    8: [(31, 1.2), (48, 3.0)],
    9: [(24, 6.0), (53, 6.7)],
    10: [(44, 2.2)],
    11: [(26, 11.4)],
    12: [(46, 9.2)],
    13: [(32, 1.8), (55, 2.6)],
    14: [(39, 1.4)],
    15: [(29, 3.4), (37, 9.5)],
    16: [(33, 2.5)],
    17: [(35, 2.0), (58, 3.2)],
    18: [(46, 3.6)],
    19: [(54, 7.4)],
    20: [(42, 9.9)],
    21: [(50, 2.8)],
    22: [(27, 1.6)],
    23: [(28, 3.6), (45, 6.6)],
    24: [(34, 6.0), (41, 8.3)],
    25: [(14, 0.5)],
    26: [(36, 2.4), (57, 2.0)],
    27: [(26, 3.9)],
    28: [(44, 1.6)],
    29: [(43, 6.1)],
    30: [(52, 3.4)],
    31: [(29, 2.6)],
    32: [(31, 2.2)],
    33: [(40, 1.8), (53, 2.6)],
    34: [(48, 2.0)],
    35: [(30, 1.4)],
    36: [(42, 3.0)],
    37: [(55, 1.8)],
    38: [(33, 1.2), (49, 2.4)],
    39: [(47, 3.8)],
    40: [(50, 10.5)],
    41: [(45, 7.4)],
    42: [(51, 6.3)],
    43: [(38, 5.0), (59, 7.0)],
    44: [(39, 2.6)],
    45: [(34, 4.2), (56, 5.2)],
    46: [(54, 2.2)],
    47: [(47, 10.8)],
    48: [(43, 1.6)],
    49: [(57, 6.7)],
    50: [(58, 2.0)],
}
LON_MEAN_PRECIP = [(21, 0.3), (22, 0.2), (24, 0.4), (25, 0.3), (26, 0.6), (27, 0.3),
                   (28, 0.5), (29, 0.4), (30, 0.4), (33, 0.3), (34, 0.5), (36, 0.3),
                   (37, 0.6), (38, 0.4), (40, 0.5), (41, 0.7), (42, 0.9), (43, 0.6),
                   (44, 0.5), (45, 0.7), (46, 0.9), (47, 1.1), (48, 0.5), (49, 0.7),
                   (50, 0.8), (51, 0.5), (52, 0.3), (53, 0.6), (54, 0.7), (55, 0.4),
                   (56, 0.7), (57, 0.6), (58, 0.3), (59, 0.5)]
LON_OPER_PRECIP = [(24, 1.5), (25, 7.1), (26, 2.0), (48, 1.0), (53, 1.2), (56, 4.9), (57, 4.9), (58, 1.0)]

PAGE_W = 679
LEGEND_W = 96          # legend strip left of the y axis
AXIS_W = 35            # room for the left axis
RIGHT_W = 30
TITLE_H = 20
TOP_PAD = 5
BOTTOM_AXIS_H = 18
BLACK = {"background-color": "black"}


def spikes_to_series(spikes, n=60):
    vals = [0.0] * n
    for step, mm in spikes:
        vals[step - 1] = mm
    return vals


def text_strip(height, items):
    """A black strip holding free text; items are (x_px, y_px_from_top, text, size, bold, align, color)."""
    f = figure(width=PAGE_W, height=height, x_range=Range1d(0, PAGE_W), y_range=Range1d(0, height),
               x_axis_type=None, y_axis_type=None, output_backend="svg", toolbar_location=None,
               min_border=0, background_fill_color="black", border_fill_color="black",
               outline_line_color=None)
    for x, y, s, size, bold, align, color in items:
        f.add_layout(Label(x=x, y=height - y, text=s, text_font=FONT, text_font_size=f"{size}px",
                           text_font_style="bold" if bold else "normal", text_color=color,
                           text_align=align, text_baseline="middle"))
    return f


def make_panel(title, footer, total_h, frame_h, start, mean, oper, clim,
               members, precip, mean_pr, oper_pr):
    main_h = TOP_PAD + frame_h + BOTTOM_AXIS_H
    foot_h = total_h - TITLE_H - main_h

    p = figure(width=PAGE_W - LEGEND_W, height=main_h, x_range=Range1d(0, 15),
               y_range=Range1d(-10, 35), output_backend="svg", toolbar_location=None,
               min_border_left=AXIS_W, min_border_right=RIGHT_W, min_border_top=TOP_PAD,
               min_border_bottom=BOTTOM_AXIS_H,
               background_fill_color="black", border_fill_color="black",
               outline_line_color="#8a8a8a", outline_line_width=1)
    p.extra_y_ranges = {"pr": Range1d(0, 40)}

    xa = p.xaxis[0]
    xa.ticker = FixedTicker(ticks=DATE_TICKS)
    xa.major_label_overrides = {t: lab for t, lab in zip(DATE_TICKS, DATE_LABELS)}
    ya = p.yaxis[0]
    ya.ticker = FixedTicker(ticks=list(range(-10, 36, 5)))
    ya.axis_label = "850 hPa Temp. (°C)"
    ra = LinearAxis(y_range_name="pr", axis_label="Precipitation (mm)",
                    ticker=FixedTicker(ticks=[0, 10, 20, 30, 40], minor_ticks=list(range(0, 41, 2))))
    p.add_layout(ra, "right")
    for ax in (xa, ya, ra):
        ax.axis_line_color = None
        ax.major_tick_line_color = "#8a8a8a"
        ax.minor_tick_line_color = "#8a8a8a"
        ax.major_tick_out = 0
        ax.major_tick_in = 0
        ax.minor_tick_out = 0
        ax.minor_tick_in = 0
        ax.major_label_text_color = TEXT
        ax.major_label_text_font = FONT
        ax.major_label_text_font_size = "8px"
        ax.axis_label_text_color = TEXT
        ax.axis_label_text_font = FONT
        ax.axis_label_text_font_size = "8px"
        ax.axis_label_text_font_style = "normal"
    xa.major_label_text_font_size = "7.5px"
    xa.major_label_standoff = 8
    ya.major_label_standoff = 8
    ya.axis_label_standoff = 2
    ra.major_label_standoff = 7
    ra.axis_label_standoff = 2
    ra.major_tick_in = 4
    ra.minor_tick_in = 4

    p.xgrid.ticker = FixedTicker(ticks=list(range(16)))
    for g in (p.xgrid[0], p.ygrid[0]):
        g.grid_line_color = "#505050"
        g.grid_line_dash = "2 3"
        g.grid_line_width = 1

    # ensemble members: temperature (12-hourly) and precipitation (6-hourly)
    for i, vals in enumerate(members):
        xs = [start + 0.25 + 0.5 * j for j in range(len(vals))]
        p.line(xs, vals, line_color=MEMBER_COLORS[i % 20], line_width=1)
    steps = [start + 0.25 * k for k in range(1, 61)]
    for i in range(len(members)):
        p.line(steps, spikes_to_series(precip.get(i + 1, [])), line_color=MEMBER_COLORS[i % 20],
               line_width=1, y_range_name="pr")

    p.line(steps[:len(clim)], clim, line_color=CLIM_COLOR, line_width=2.6)
    p.line(steps[:len(mean)], mean, line_color=MEAN_COLOR, line_width=2.6)
    p.line(steps, spikes_to_series(mean_pr), line_color=MEAN_COLOR, line_width=2.2, y_range_name="pr")
    p.line(steps[:len(oper)], oper, line_color=OPER_COLOR, line_width=2.6)
    p.line(steps, spikes_to_series(oper_pr), line_color=OPER_COLOR, line_width=2.6, y_range_name="pr")

    # legend strip; its frame lines up with the main frame inside the row
    lg = figure(width=LEGEND_W, height=main_h, x_range=Range1d(0, 1), y_range=Range1d(0, 1),
                x_axis_type=None, y_axis_type=None, output_backend="svg", toolbar_location=None,
                min_border=0, background_fill_color="black", border_fill_color="black",
                outline_line_color=None)
    swatch = [lg.line([5, 6], [5, 6], line_color=MEMBER_COLORS[i % 20], line_width=1.5)
              for i in range(50)]
    mean_sw = lg.line([5, 6], [5, 6], line_color=MEAN_COLOR, line_width=2.5)
    oper_sw = lg.line([5, 6], [5, 6], line_color=OPER_COLOR, line_width=2.5)
    clim_sw = lg.line([5, 6], [5, 6], line_color=CLIM_COLOR, line_width=2.5)
    blank_sw = lg.line([5, 6], [5, 6], line_alpha=0)

    frame_bottom = TOP_PAD + frame_h

    def legend(items, x_off, row1, row_h):
        vy = frame_bottom - (row1 - row_h / 2) - len(items) * row_h
        return Legend(items=items, location=(x_off, vy), orientation="vertical",
                      label_text_font=FONT, label_text_font_size="9px",
                      label_text_color=TEXT, glyph_width=8, glyph_height=row_h,
                      label_height=row_h, label_standoff=1, spacing=0, padding=0, margin=0,
                      background_fill_alpha=0, border_line_alpha=0)

    col1 = [LegendItem(label=f"P{i + 1}", renderers=[swatch[i]]) for i in range(0, 50, 2)]
    col1.append(LegendItem(label="Ens. mean", renderers=[mean_sw]))
    col2 = [LegendItem(label=f"P{i + 1}", renderers=[swatch[i]]) for i in range(1, 50, 2)]
    col2.append(LegendItem(label="Oper", renderers=[oper_sw]))
    lg.add_layout(legend(col1, 3, 13, 12))
    lg.add_layout(legend(col2, 63, 13, 12))
    clim_items = [LegendItem(label="1991-2020", renderers=[clim_sw]),
                  LegendItem(label="mean", renderers=[blank_sw])]
    lg.add_layout(legend(clim_items, 3, 335, 9))

    head = text_strip(TITLE_H, [(349, 10, title, 13, True, "center", "#f4f4f4")])
    foot = text_strip(foot_h, [
        (390, 6, "Date (UTC)", 8, False, "center", TEXT),
        (97, 14, footer, 12.5, False, "left", "#e6e6e6"),
        (641, 14, "Wetterzentrale.de", 12.5, False, "right", "#e6e6e6"),
    ])
    body = row(lg, p, spacing=0, styles=BLACK)
    return column(head, body, foot, spacing=0, styles=BLACK)


panel1 = make_panel("Toulouse  (FR)  850 hPa Temp. & Precipitation | Tue, 07Jul2026 00Z",
                    "AIFS Ensemble, 43.5N, 1.5E", 497, 424, 0.0,
                    TLS_MEAN, TLS_OPER, TLS_CLIM, TLS_MEMBERS, TLS_PRECIP,
                    TLS_MEAN_PRECIP, TLS_OPER_PRECIP)
panel2 = make_panel("London  (GB)  850 hPa Temp. & Precipitation | Tue, 07Jul2026 06Z",
                    "AIFS Ensemble, 51.5N, 0.25W", 495, 425, 0.25,
                    LON_MEAN, LON_OPER, LON_CLIM, LON_MEMBERS, LON_PRECIP,
                    LON_MEAN_PRECIP, LON_OPER_PRECIP)

sep = Div(text="", width=PAGE_W, height=8, margin=0,
          styles={"background-color": "#f0f0f0"})
page = column(panel1, sep, panel2, spacing=0, styles=BLACK)

open("out.html", "w").write(file_html(page, INLINE))
